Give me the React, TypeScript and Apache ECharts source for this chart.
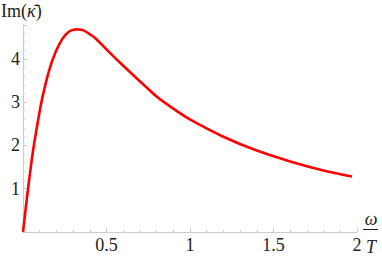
import React, { useEffect, useRef } from "react";
import * as echarts from "echarts";

const xValues = [0, 0.024, 0.05, 0.067, 0.093, 0.117, 0.157, 0.196, 0.236, 0.276, 0.315, 0.35, 0.375, 0.435, 0.494, 0.554, 0.65, 0.8, 0.9, 1.0, 1.2, 1.4, 1.6, 1.8, 1.97];
const yValues = [0, 0.8, 1.6, 2.05, 2.64, 3.12, 3.74, 4.16, 4.46, 4.63, 4.68, 4.67, 4.63, 4.47, 4.24, 4.01, 3.66, 3.13, 2.85, 2.6, 2.2, 1.88, 1.63, 1.42, 1.28];
const yTicks = [1, 2, 3, 4];
const yAxisTitle = "Im(";
const xAxisTop = "ω";
const xAxisBottom = "T";

const FONT = "Liberation Serif";

export default function App() {
  const ref = useRef<HTMLDivElement>(null);
  useEffect(() => {
    if (!ref.current) return;
    const chart = echarts.init(ref.current, null, { renderer: "svg" });
    const axisColor = "#cccccc";
    chart.setOption({
      animation: false,
      textStyle: { fontFamily: FONT },
      grid: { left: 23, right: 25, top: 25, bottom: 25 },
      xAxis: {
        type: "value",
        min: 0,
        max: 2,
        interval: 0.5,
        axisLine: { show: true, lineStyle: { color: axisColor, width: 1 } },
        axisTick: { show: true, inside: true, length: 4, lineStyle: { color: axisColor } },
        minorTick: { show: true, splitNumber: 5, length: 2, lineStyle: { color: axisColor } },
        splitLine: { show: false },
        axisLabel: {
          color: "#222",
          fontFamily: FONT,
          fontSize: 18,
          margin: 4,
          formatter: (v: number) => (v === 0 ? "" : String(v)),
        },
      },
      yAxis: {
        type: "value",
        min: 0,
        max: 4.78,
        interval: 1,
        axisLine: { show: true, lineStyle: { color: axisColor, width: 1 } },
        axisTick: { show: true, inside: true, length: 4, lineStyle: { color: axisColor } },
        minorTick: { show: true, splitNumber: 5, length: 2, lineStyle: { color: axisColor } },
        splitLine: { show: false },
        axisLabel: {
          color: "#222",
          fontFamily: FONT,
          fontSize: 18,
          margin: 3,
          showMaxLabel: false,
          formatter: (v: number) => (yTicks.indexOf(v) >= 0 ? String(v) : ""),
        },
      },
      series: [
        {
          type: "line",
          data: xValues.map((x, i) => [x, yValues[i]]),
          showSymbol: false,
          smooth: 0.2,
          lineStyle: { color: "#ff0000", width: 2.6 },
          clip: false,
        },
      ],
      graphic: [
        {
          type: "text",
          left: 1,
          top: 2,
          style: {
            text: "{n|" + yAxisTitle + "}{i|κ̄}{n|)}",
            rich: {
              n: { fontFamily: FONT, fontSize: 18, fill: "#222" },
              i: { fontFamily: FONT, fontSize: 18, fontStyle: "italic", fill: "#222" },
            },
          },
        },
        {
          type: "text",
          x: 371,
          y: 219,
          style: {
            text: xAxisTop,
            fontFamily: FONT,
            fontSize: 18,
            fontStyle: "italic",
            fill: "#222",
            align: "center",
            verticalAlign: "middle",
          },
        },
        {
          type: "line",
          shape: { x1: 363, y1: 229.5, x2: 378, y2: 229.5 },
          style: { stroke: "#222", lineWidth: 1 },
        },
        {
          type: "text",
          x: 371,
          y: 247,
          style: {
            text: xAxisBottom,
            fontFamily: FONT,
            fontSize: 18,
            fontStyle: "italic",
            fill: "#222",
            align: "center",
            verticalAlign: "middle",
          },
        },
      ],
    });
    return () => chart.dispose();
  }, []);
  return <div ref={ref} style={{ width: 382, height: 257, position: "absolute", left: 0, top: 0 }} />;
}
